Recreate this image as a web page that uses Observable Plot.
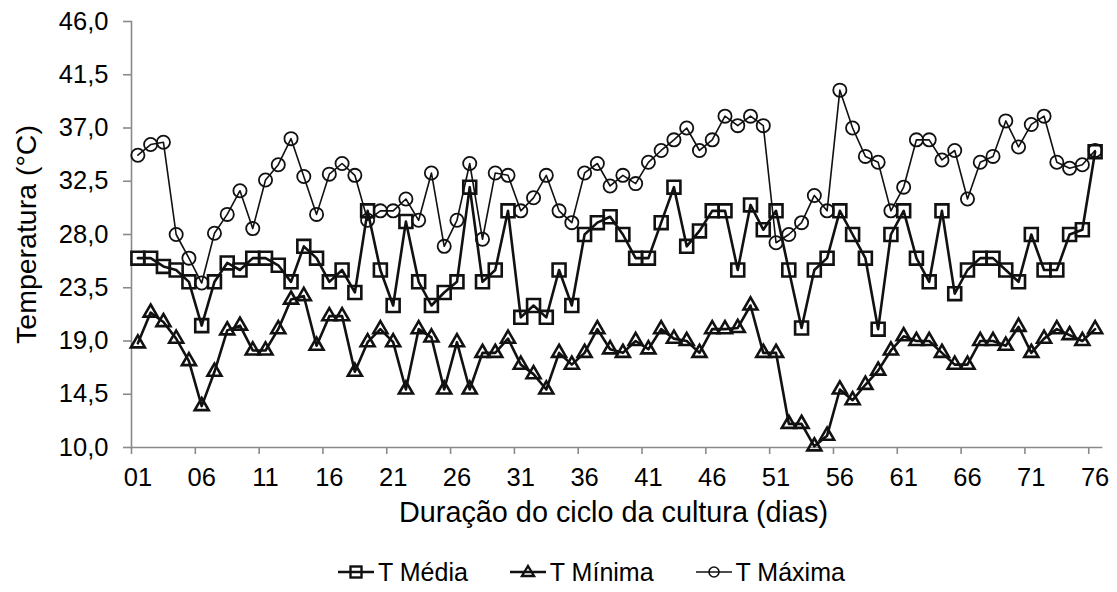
<!DOCTYPE html>
<html>
<head>
<meta charset="utf-8">
<script src="https://cdn.jsdelivr.net/npm/d3@7"></script>
<script src="https://cdn.jsdelivr.net/npm/@observablehq/plot@0.6"></script>
<style>
  html, body { margin: 0; padding: 0; background: #fff; }
  body { font-family: "Liberation Sans", Arial, sans-serif; color: #000; width: 1117px; }
  #legend { display: flex; align-items: center; column-gap: 42px; margin-left: 338px; margin-top: 27px; height: 30px; font-size: 25px; }
  .item { display: flex; align-items: center; }
  .item svg { margin-right: 4px; }
</style>
</head>
<body>
<div id="chart"></div>
<div id="legend"></div>
<script>
// Day of the crop cycle (categories)
const days = [1,2,3,4,5,6,7,8,9,10,11,12,13,14,15,16,17,18,19,20,21,22,23,24,25,26,27,28,29,30,31,32,33,34,35,36,37,38,
  39,40,41,42,43,44,45,46,47,48,49,50,51,52,53,54,55,56,57,58,59,60,61,62,63,64,65,66,67,68,69,70,71,72,73,74,75,76];

// Mean temperature (°C)
const tMedia = [26.0,26.0,25.3,25.0,24.0,20.3,24.0,25.6,25.0,26.0,26.0,25.4,24.0,27.0,26.0,24.0,25.0,23.1,30.0,25.0,
  22.0,29.1,24.0,22.0,23.1,24.0,32.0,24.0,25.0,30.0,21.0,22.0,21.0,25.0,22.0,28.0,29.0,29.5,28.0,26.0,
  26.0,29.0,32.0,27.0,28.3,30.0,30.0,25.0,30.5,28.4,30.0,25.0,20.1,25.0,26.0,30.0,28.0,26.0,20.0,28.0,
  30.0,26.0,24.0,30.0,23.0,25.0,26.0,26.0,25.0,24.0,28.0,25.0,25.0,28.0,28.4,35.0];

// Minimum temperature (°C)
const tMinima = [18.8,21.4,20.6,19.2,17.3,13.5,16.4,19.9,20.3,18.2,18.2,20.0,22.5,22.8,18.6,21.1,21.1,16.4,18.9,20.0,
  18.9,14.9,20.0,19.3,14.9,18.9,14.9,18.0,18.0,19.2,17.0,16.2,14.9,18.0,17.0,18.0,20.0,18.3,18.0,19.0,
  18.3,20.0,19.2,19.0,18.0,20.0,20.0,20.1,22.0,18.0,18.0,12.0,12.0,10.1,11.0,14.9,14.0,15.3,16.5,18.2,
  19.4,19.0,19.0,18.0,17.0,17.0,19.0,19.0,18.6,20.2,18.0,19.2,20.0,19.5,19.0,20.0];

// Maximum temperature (°C)
const tMaxima = [34.7,35.6,35.8,28.0,26.0,23.9,28.1,29.7,31.7,28.5,32.6,33.9,36.1,32.9,29.7,33.1,34.0,33.0,29.2,30.0,
  30.0,31.0,29.2,33.2,27.0,29.2,34.0,27.6,33.2,33.0,30.0,31.1,33.0,30.0,29.0,33.2,34.0,32.1,33.0,32.3,
  34.1,35.1,36.0,37.0,35.1,36.0,38.0,37.2,38.0,37.2,27.3,28.0,29.0,31.3,30.0,40.2,37.0,34.6,34.1,30.0,
  32.0,36.0,36.0,34.3,35.1,31.0,34.1,34.6,37.6,35.4,37.3,38.0,34.1,33.6,33.9,35.1];

// Tick labels
const xTickDays = [1,6,11,16,21,26,31,36,41,46,51,56,61,66,71,76];
const yTicks = [10, 14.5, 19, 23.5, 28, 32.5, 37, 41.5, 46];

const seriesNames = ["T Média", "T Mínima", "T Máxima"];
const xTitle = "Duração do ciclo da cultura (dias)";
const yTitle = "Temperatura (°C)";

const toRows = (values) => days.map((d, i) => ({day: d, value: values[i]}));
const media = toRows(tMedia), minima = toRows(tMinima), maxima = toRows(tMaxima);

const ink = "#111";
const axisGray = "#8a8a8a";
const font = "Liberation Sans, Arial, sans-serif";
const fmtY = (v) => v.toFixed(1).replace(".", ",");
const fmtX = (d) => String(d).padStart(2, "0");

const chart = Plot.plot({
  width: 1117,
  height: 530,
  marginLeft: 131,
  marginRight: 16,
  marginTop: 21,
  marginBottom: 83,
  style: {fontFamily: font, fontSize: "25px", color: "#000", background: "#fff", overflow: "visible"},
  x: {type: "linear", domain: [days[0] - 0.5, days[days.length - 1] + 0.5]},
  y: {domain: [yTicks[0], yTicks[yTicks.length - 1]]},
  marks: [
    Plot.frame({anchor: "left", stroke: axisGray, strokeWidth: 1.6}),
    Plot.frame({anchor: "bottom", stroke: axisGray, strokeWidth: 1.6}),
    Plot.axisY(yTicks, {tickSize: 8, tickPadding: 15, tickFormat: fmtY, stroke: axisGray, strokeWidth: 1.6, fill: "#000", fontSize: 25.5, label: null}),
    Plot.axisX(xTickDays.map(d => d - 0.5), {tickSize: 7, stroke: axisGray, strokeWidth: 1.6, fill: "none", label: null}),
    Plot.axisX(xTickDays, {tickSize: 0, tickPadding: 20, tickFormat: fmtX, fill: "#000", fontSize: 25.5, label: null}),
    Plot.text([xTitle], {frameAnchor: "bottom", textAnchor: "middle", lineAnchor: "bottom", dx: -3, dy: 74, fontSize: 28.8, fill: "#000"}),
    Plot.text([yTitle], {frameAnchor: "left", textAnchor: "middle", lineAnchor: "top", rotate: -90, dx: -116, fontSize: 28.5, fill: "#000"}),
    // T Média
    Plot.line(media, {x: "day", y: "value", stroke: ink, strokeWidth: 2.6}),
    Plot.dot(media, {x: "day", y: "value", symbol: "square", r: 7.3, stroke: ink, strokeWidth: 2.6, fill: "none"}),
    // T Mínima
    Plot.line(minima, {x: "day", y: "value", stroke: ink, strokeWidth: 2.6}),
    Plot.dot(minima, {x: "day", y: "value", symbol: "triangle", r: 5.2, stroke: ink, strokeWidth: 2.6, fill: "none"}),
    // T Máxima
    Plot.line(maxima, {x: "day", y: "value", stroke: ink, strokeWidth: 1.6}),
    Plot.dot(maxima, {x: "day", y: "value", symbol: "circle", r: 6.6, stroke: ink, strokeWidth: 1.8, fill: "none"})
  ]
});
document.getElementById("chart").appendChild(chart);

// Legend
const legendSymbols = [
  () => `<line x1="0" y1="12" x2="36" y2="12" stroke="${ink}" stroke-width="2.6"/><rect x="12.5" y="6.5" width="11" height="11" fill="none" stroke="${ink}" stroke-width="2.4"/>`,
  () => `<line x1="0" y1="12" x2="36" y2="12" stroke="${ink}" stroke-width="2.6"/><path d="M18,6 L24,16 L12,16 Z" fill="none" stroke="${ink}" stroke-width="2.4"/>`,
  () => `<line x1="0" y1="12" x2="36" y2="12" stroke="${ink}" stroke-width="1.6"/><circle cx="18" cy="12" r="5" fill="none" stroke="${ink}" stroke-width="1.6"/>`
];
const legend = document.getElementById("legend");
seriesNames.forEach((name, i) => {
  const item = document.createElement("div");
  item.className = "item";
  item.innerHTML = `<svg width="36" height="24" viewBox="0 0 36 24">${legendSymbols[i]()}</svg><span>${name}</span>`;
  legend.appendChild(item);
});
</script>
</body>
</html>
